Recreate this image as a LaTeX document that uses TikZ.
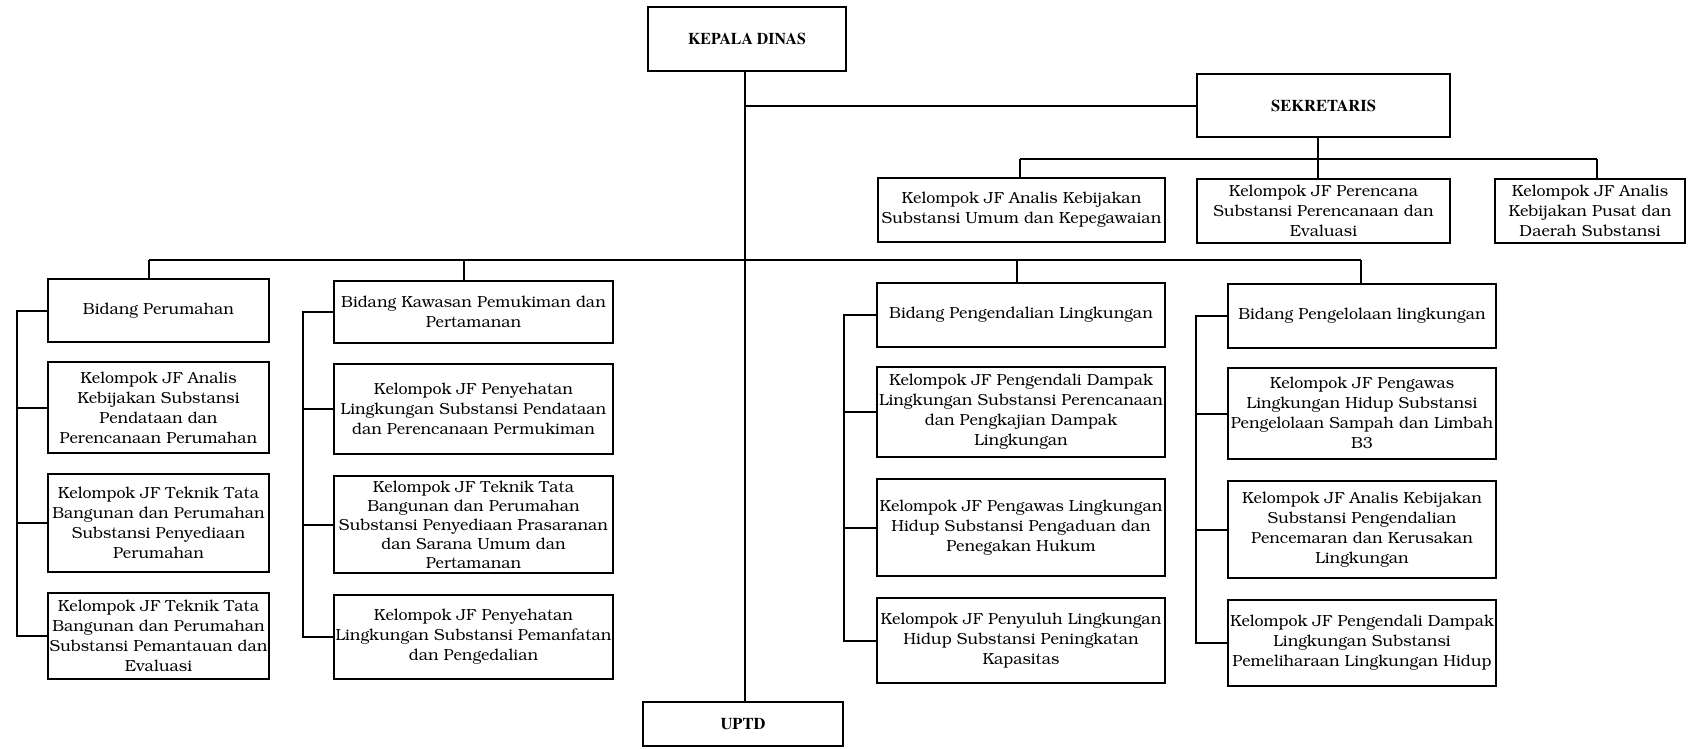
\documentclass[tikz,border=0pt]{standalone}
\usepackage[T1]{fontenc}
\usepackage{graphicx}
\newcommand{\bk}{\fontfamily{pbk}\fontseries{m}\fontsize{16}{20}\selectfont}
\newcommand{\hd}{\fontfamily{ptm}\fontseries{b}\fontsize{16.5}{19}\selectfont}
\tikzset{
  orgbox/.style={draw, line width=2.3pt, inner sep=0pt, align=center, font=\bk},
  headbox/.style={draw, line width=2.3pt, inner sep=0pt, align=center, font=\hd},
  link/.style={line width=2pt, line join=miter},
}
\begin{document}
\begin{tikzpicture}[x=1pt, y=-1pt]
\useasboundingbox (0,0) rectangle (1688,748);

% top
\node[headbox, minimum width=198pt, minimum height=64pt] (kep) at (747,39) {\scalebox{0.96}[1]{KEPALA DINAS}};
\node[headbox, minimum width=253pt, minimum height=63pt] (sek) at (1323.5,105.5) {SEKRETARIS};
\node[headbox, minimum width=200pt, minimum height=44pt] (uptd) at (743,724) {UPTD};

% sekretaris groups
\node[orgbox, minimum width=287pt, minimum height=64pt] (jfa) at (1021.5,210) {Kelompok JF Analis Kebijakan\\Substansi Umum dan Kepegawaian};
\node[orgbox, minimum width=253pt, minimum height=64pt] (jfb) at (1323.5,211) {Kelompok JF Perencana\\Substansi Perencanaan dan\\Evaluasi};
\node[orgbox, minimum width=190pt, minimum height=64pt] (jfc) at (1590,211) {Kelompok JF Analis\\Kebijakan Pusat dan\\Daerah Substansi};

% column 1
\node[orgbox, minimum width=221pt, minimum height=63pt] (c1a) at (158.5,310.5) {Bidang Perumahan};
\node[orgbox, minimum width=221pt, minimum height=91pt] (c1b) at (158.5,407.5) {Kelompok JF Analis\\Kebijakan Substansi\\Pendataan dan\\Perencanaan Perumahan};
\node[orgbox, minimum width=221pt, minimum height=98pt] (c1c) at (158.5,523) {Kelompok JF Teknik Tata\\Bangunan dan Perumahan\\Substansi Penyediaan\\Perumahan};
\node[orgbox, minimum width=221pt, minimum height=86pt] (c1d) at (158.5,636) {Kelompok JF Teknik Tata\\Bangunan dan Perumahan\\Substansi Pemantauan dan\\Evaluasi};

% column 2
\node[orgbox, minimum width=279pt, minimum height=62pt] (c2a) at (473.5,312) {Bidang Kawasan Pemukiman dan\\Pertamanan};
\node[orgbox, minimum width=279pt, minimum height=90pt] (c2b) at (473.5,409) {Kelompok JF Penyehatan\\Lingkungan Substansi Pendataan\\dan Perencanaan Permukiman};
\node[orgbox, minimum width=279pt, minimum height=97pt, font=\fontfamily{pbk}\fontseries{m}\fontsize{16}{19}\selectfont] (c2c) at (473.5,524.5) {Kelompok JF Teknik Tata\\Bangunan dan Perumahan\\Substansi Penyediaan Prasaranan\\dan Sarana Umum dan\\Pertamanan};
\node[orgbox, minimum width=279pt, minimum height=84pt] (c2d) at (473.5,637) {Kelompok JF Penyehatan\\Lingkungan Substansi Pemanfatan\\dan Pengedalian};

% column 3
\node[orgbox, minimum width=288pt, minimum height=64pt] (c3a) at (1021,315) {Bidang Pengendalian Lingkungan};
\node[orgbox, minimum width=288pt, minimum height=90pt] (c3b) at (1021,412) {Kelompok JF Pengendali Dampak\\Lingkungan Substansi Perencanaan\\dan Pengkajian Dampak\\Lingkungan};
\node[orgbox, minimum width=288pt, minimum height=97pt] (c3c) at (1021,527.5) {Kelompok JF Pengawas Lingkungan\\Hidup Substansi Pengaduan dan\\Penegakan Hukum};
\node[orgbox, minimum width=288pt, minimum height=85pt] (c3d) at (1021,640.5) {Kelompok JF Penyuluh Lingkungan\\Hidup Substansi Peningkatan\\Kapasitas};

% column 4
\node[orgbox, minimum width=268pt, minimum height=64pt] (c4a) at (1362,316) {Bidang Pengelolaan lingkungan};
\node[orgbox, minimum width=268pt, minimum height=91pt] (c4b) at (1362,413.5) {Kelompok JF Pengawas\\Lingkungan Hidup Substansi\\Pengelolaan Sampah dan Limbah\\B3};
\node[orgbox, minimum width=268pt, minimum height=97pt] (c4c) at (1362,529.5) {Kelompok JF Analis Kebijakan\\Substansi Pengendalian\\Pencemaran dan Kerusakan\\Lingkungan};
\node[orgbox, minimum width=268pt, minimum height=86pt] (c4d) at (1362,643) {Kelompok JF Pengendali Dampak\\Lingkungan Substansi\\Pemeliharaan Lingkungan Hidup};

% trunk
\coordinate (tr) at (745,103);
\draw[link] (kep.south -| tr) -- (uptd.north -| tr);
\draw[link] (tr |- sek.west) -- (sek.west);

% sekretaris bus
\coordinate (sb) at (1318,159);
\coordinate (sbA) at (1020,159);
\coordinate (sbC) at (1597,159);
\draw[link] (sek.south -| sb) -- (sb);
\draw[link] (sbA) -- (sbC);
\draw[link] (sbA) -- (sbA |- jfa.north);
\draw[link] (sb) -- (sb |- jfb.north);
\draw[link] (sbC) -- (sbC |- jfc.north);

% main bus
\coordinate (m1) at (149,260);
\coordinate (m2) at (464,260);
\coordinate (m3) at (1017,260);
\coordinate (m4) at (1361,260);
\draw[link] (m1) -- (m4);
\draw[link] (m1) -- (m1 |- c1a.north);
\draw[link] (m2) -- (m2 |- c2a.north);
\draw[link] (m3) -- (m3 |- c3a.north);
\draw[link] (m4) -- (m4 |- c4a.north);

% rails
\coordinate (r1) at (17,0);
\coordinate (r2) at (303,0);
\coordinate (r3) at (844,0);
\coordinate (r4) at (1196,0);
\foreach \c/\r in {c1/r1, c2/r2, c3/r3, c4/r4}{
  \draw[link] (\c a.west) -- (\r |- \c a.west) -- (\r |- \c d.west) -- (\c d.west);
  \draw[link] (\r |- \c b.west) -- (\c b.west);
  \draw[link] (\r |- \c c.west) -- (\c c.west);
}
\end{tikzpicture}
\end{document}
